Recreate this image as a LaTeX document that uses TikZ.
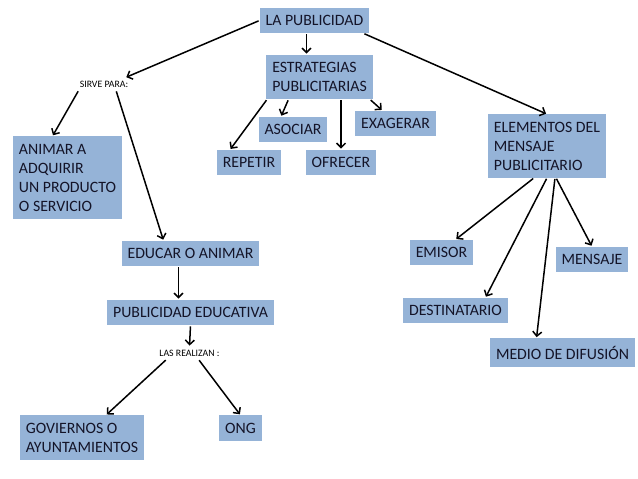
\documentclass[tikz,border=0pt]{standalone}
\usepackage{fontspec}
\setmainfont{Carlito}
\usetikzlibrary{arrows.meta}
\definecolor{cajaazul}{RGB}{149,179,215}
\definecolor{textoazul}{RGB}{20,20,40}

\begin{document}
\begin{tikzpicture}[x=1pt, y=-1pt,
  caja/.style = {shape=rectangle, fill=cajaazul, align=left,
    inner xsep=6pt, inner ysep=7.5pt, minimum height=25pt,
    text=textoazul, font=\fontsize{15.8}{19}\selectfont},
  rotulo/.style = {inner sep=3pt, font=\fontsize{9.8}{11}\selectfont},
  flecha/.style = {-{Straight Barb[length=4.5pt,width=9pt]}, line width=1.5pt,
    shorten <=1pt, shorten >=1pt}]
  \useasboundingbox (0,0) rectangle (638,479);
  \node[caja] (pub) at (314.5,20.5) {LA PUBLICIDAD};
  \node[caja] (estr) at (319.5,77) {ESTRATEGIAS\\PUBLICITARIAS};
  \node[caja] (asoc) at (293,129.5) {ASOCIAR};
  \node[caja] (repe) at (249,162.5) {REPETIR};
  \node[caja] (ofre) at (341,162.5) {OFRECER};
  \node[caja] (exag) at (395.5,123.5) {EXAGERAR};
  \node[caja] (elem) at (547,146) {ELEMENTOS DEL\\MENSAJE\\PUBLICITARIO};
  \node[rotulo] (sirve) at (104,84) {SIRVE PARA:};
  \node[caja] (animar) at (67.5,177.5) {ANIMAR A\\ADQUIRIR\\UN PRODUCTO\\O SERVICIO};
  \node[caja] (educar) at (190.5,253.5) {EDUCAR O ANIMAR};
  \node[caja] (pubedu) at (190.5,312.5) {PUBLICIDAD EDUCATIVA};
  \node[rotulo] (realizan) at (189.5,353) {LAS REALIZAN :};
  \node[caja] (gob) at (82,437.5) {GOVIERNOS O\\AYUNTAMIENTOS};
  \node[caja] (ong) at (240.5,428) {ONG};
  \node[caja] (emisor) at (441.5,252.5) {EMISOR};
  \node[caja] (mensaje) at (592,259.5) {MENSAJE};
  \node[caja] (destin) at (455.5,310.5) {DESTINATARIO};
  \node[caja] (medio) at (562.5,352.5) {MEDIO DE DIFUSIÓN};

  \draw[flecha] (pub.west) -- ([xshift=-6pt]sirve.north east);
  \draw[flecha] ([xshift=-8pt]pub.south) -- ([xshift=-8pt]pub.south |- estr.north);
  \draw[flecha] ([xshift=-6pt]pub.south east) -- (elem.north);
  \draw[flecha] ([xshift=2pt]sirve.south west) -- ([xshift=-15pt]animar.north);
  \draw[flecha] ([xshift=12pt]sirve.south) -- ([xshift=-27pt]educar.north);
  \draw[flecha] ([xshift=1pt]estr.south west) -- ([xshift=-19pt]repe.north);
  \draw[flecha] ([xshift=-31pt]estr.south) -- ([xshift=-12pt]asoc.north);
  \draw[flecha] (estr.south -| ofre.north) -- (ofre.north);
  \draw[flecha] ([xshift=-3pt]estr.south east) -- ([xshift=-13pt]exag.north);
  \draw[flecha] ([xshift=-13pt]elem.south) -- ([xshift=14pt]emisor.north);
  \draw[flecha] (elem.south) -- ([xshift=30pt]destin.north);
  \draw[flecha] ([xshift=8pt]elem.south) -- ([xshift=-26pt]medio.north);
  \draw[flecha] ([xshift=9pt]elem.south) -- (mensaje.north);
  \draw[flecha] ([xshift=-12pt]educar.south) -- ([xshift=-12pt]pubedu.north);
  \draw[flecha] (pubedu.south) -- (realizan.north);
  \draw[flecha] ([xshift=-23pt]realizan.south) -- ([xshift=24pt]gob.north);
  \draw[flecha] ([xshift=9pt]realizan.south) -- (ong.north);
\end{tikzpicture}
\end{document}
